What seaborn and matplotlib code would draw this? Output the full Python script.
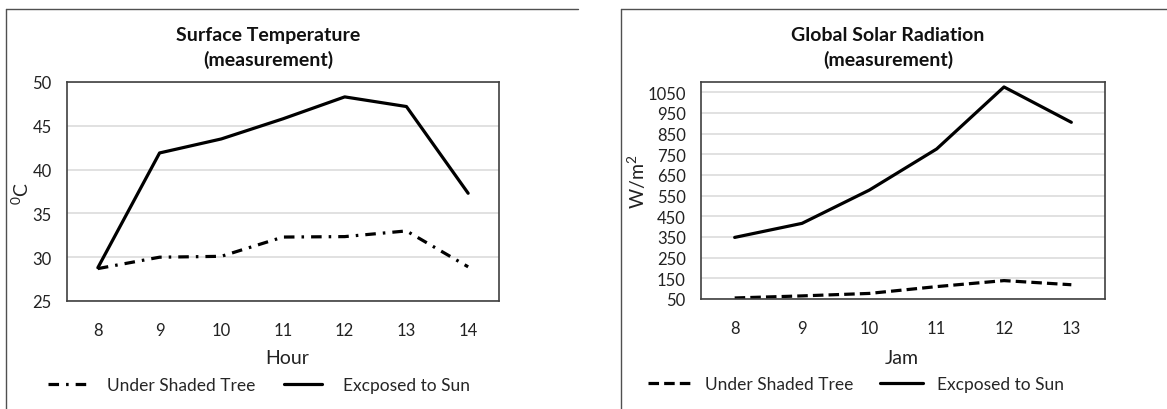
import pandas as pd
import matplotlib
matplotlib.use('Agg')
import matplotlib.pyplot as plt
from matplotlib.lines import Line2D
import seaborn as sns

# Surface temperature (left)
hours_temp = [8, 9, 10, 11, 12, 13, 14]
temp_shaded = [28.7, 30.0, 30.1, 32.3, 32.35, 33.0, 28.9]
temp_sun = [28.8, 41.9, 43.5, 45.8, 48.3, 47.2, 37.3]

# Global solar radiation (right)
hours_rad = [8, 9, 10, 11, 12, 13]
rad_shaded = [55, 65, 77, 110, 139, 119]
rad_sun = [348, 416, 577, 776, 1076, 905]

SHADED = 'Under Shaded Tree'
SUN = 'Excposed to Sun'

df_temp = pd.DataFrame({
    'x': hours_temp * 2,
    'y': temp_shaded + temp_sun,
    'series': [SHADED] * len(hours_temp) + [SUN] * len(hours_temp),
})
df_rad = pd.DataFrame({
    'x': hours_rad * 2,
    'y': rad_shaded + rad_sun,
    'series': [SHADED] * len(hours_rad) + [SUN] * len(hours_rad),
})

sns.set_theme(style='white')
plt.rcParams['font.family'] = ['Lato', 'DejaVu Sans']
plt.rcParams['mathtext.fontset'] = 'custom'
plt.rcParams['mathtext.rm'] = 'Lato'
plt.rcParams['mathtext.it'] = 'Lato'

W, H = 1167, 410
fig = plt.figure(figsize=(W / 100, H / 100), dpi=100)

ax1 = fig.add_axes([67 / W, 1 - 302 / H, 432 / W, 219 / H])
ax2 = fig.add_axes([701 / W, 1 - 300 / H, 404 / W, 217 / H])

pal = {SHADED: 'black', SUN: 'black'}
dash_dot = (3.3, 2.2, 0.8, 2.2)
dashed = (3.3, 1.6)

sns.lineplot(data=df_temp, x='x', y='y', hue='series', style='series',
             palette=pal, dashes={SHADED: dash_dot, SUN: ''},
             linewidth=2.3, ax=ax1, legend=False)
sns.lineplot(data=df_rad, x='x', y='y', hue='series', style='series',
             palette=pal, dashes={SHADED: dashed, SUN: ''},
             linewidth=2.3, ax=ax2, legend=False)

ax1.set_xlim(7.5, 14.5)
ax1.set_ylim(25, 50)
ax1.set_xticks(hours_temp)
ax1.set_yticks(range(25, 51, 5))

ax2.set_xlim(7.5, 13.5)
ax2.set_ylim(50, 1100)
ax2.set_xticks(hours_rad)
ax2.set_yticks(range(50, 1051, 100))

for ax in (ax1, ax2):
    ax.set_xlabel('')
    ax.set_ylabel('')
    ax.yaxis.grid(True, color='#d9d9d9', linewidth=1.1)
    ax.set_axisbelow(True)
    for sp in ax.spines.values():
        sp.set_color('#404040')
        sp.set_linewidth(1.2)
    ax.tick_params(axis='x', length=0, pad=15, labelsize=12, colors='#222222')
    ax.tick_params(axis='y', length=0, pad=11, labelsize=12, colors='#222222')

# titles
fig.text(268 / W, 1 - 48 / H, 'Surface Temperature\n(measurement)', ha='center', va='center',
         fontsize=14, fontweight='bold', linespacing=1.45, color='#111111')
fig.text(888 / W, 1 - 48 / H, 'Global Solar Radiation\n(measurement)', ha='center', va='center',
         fontsize=14, fontweight='bold', linespacing=1.45, color='#111111')

# axis labels
fig.text(287 / W, 1 - 359 / H, 'Hour', ha='center', va='center', fontsize=14, color='#222222')
fig.text(902 / W, 1 - 359 / H, 'Jam', ha='center', va='center', fontsize=14, color='#222222')
fig.text(21 / W, 1 - 193 / H, '$^0$C', ha='center', va='center', rotation=90, fontsize=14, color='#222222')
fig.text(637 / W, 1 - 182 / H, 'W/m$^2$', ha='center', va='center', rotation=90, fontsize=14, color='#222222')

# legends below each panel
fig.legend(handles=[Line2D([], [], color='black', lw=2.3, dashes=dash_dot),
                    Line2D([], [], color='black', lw=2.3)],
           labels=[SHADED, SUN], loc='center', bbox_to_anchor=(259 / W, 1 - 386 / H), ncol=2,
           frameon=False, fontsize=12.5, handlelength=2.2, columnspacing=1.6, handletextpad=1.2)
fig.legend(handles=[Line2D([], [], color='black', lw=2.3, dashes=dashed),
                    Line2D([], [], color='black', lw=2.3)],
           labels=[SHADED, SUN], loc='center', bbox_to_anchor=(856 / W, 1 - 385 / H), ncol=2,
           frameon=False, fontsize=12.5, handlelength=2.5, columnspacing=1.5, handletextpad=0.8)

# panel borders
border = dict(color='#505050', linewidth=1.0, transform=fig.transFigure)
fig.add_artist(Line2D([6 / W, 6 / W], [0, 1 - 10 / H], **border))
fig.add_artist(Line2D([6 / W, 578 / W], [1 - 10 / H, 1 - 10 / H], **border))
fig.add_artist(Line2D([621 / W, 621 / W], [0, 1 - 10 / H], **border))
fig.add_artist(Line2D([621 / W, 1 - 0.5 / W], [1 - 10 / H, 1 - 10 / H], **border))

fig.savefig('out.png', dpi=100)
